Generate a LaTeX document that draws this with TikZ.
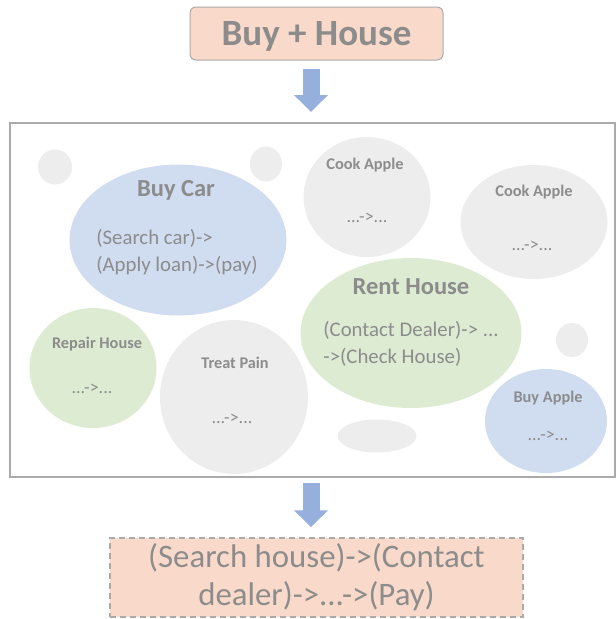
\documentclass[tikz,border=0pt]{standalone}
\usepackage{fontspec}
\setmainfont{Carlito}
\usetikzlibrary{shapes.geometric}
\usetikzlibrary{arrows,arrows.meta}
\usetikzlibrary{calc}
\definecolor{schrift}{RGB}{140,140,140}
\definecolor{rahmen}{RGB}{170,170,170}
\definecolor{pfirsich}{RGB}{249,218,202}
\definecolor{hellblau}{RGB}{208,220,240}
\definecolor{hellgruen}{RGB}{221,235,211}
\definecolor{hellgrau}{RGB}{237,237,237}
\definecolor{pfeilblau}{RGB}{150,176,222}

\begin{document}
\begin{tikzpicture}[x=1pt, y=-1pt, schrift,
    blase/.style={ellipse, draw=none, inner sep=0pt},
    titel/.style={font=\bfseries\fontsize{16.3}{18}\selectfont},
    titelgross/.style={font=\bfseries\fontsize{24.5}{28}\selectfont},
    inhalt/.style={font=\fontsize{18}{20}\selectfont},
    inhaltgross/.style={font=\fontsize{20.8}{27}\selectfont, align=left},
    blockpfeil/.style={pfeilblau, line width=17pt, -{Triangle[width=33pt, length=17pt]}}]

    \useasboundingbox (0,0) rectangle (616,619);

    % oben und unten
    \node[fill=pfirsich, draw=rahmen, line width=1pt, rounded corners=6pt, minimum width=253pt, minimum height=53pt,
          text height=30pt, font=\bfseries\fontsize{37}{40}\selectfont] (ziel) at (316.5,33.5) {Buy + House};
    \draw[draw=rahmen, line width=2pt] (10,123) rectangle (615,477);
    \coordinate (rahmen-oben) at (311,123);
    \coordinate (rahmen-unten) at (311,477);
    \node[fill=pfirsich, draw=rahmen, line width=1.5pt, dash pattern=on 6pt off 4pt, minimum width=413pt, minimum height=79pt,
          align=center, font=\fontsize{32.8}{38}\selectfont] (plan) at (316.5,577.5) {(Search house)->(Contact\\dealer)->...->(Pay)};

    \draw[blockpfeil, shorten <=8pt, shorten >=11pt] (ziel.south -| rahmen-oben) -- (rahmen-oben);
    \draw[blockpfeil, shorten <=6pt, shorten >=10pt] (rahmen-unten) -- (plan.north -| rahmen-unten);

    % kleine fuellkreise
    \node[blase, fill=hellgrau, minimum width=34pt, minimum height=35pt] (punkt1) at (55,167) {};
    \node[blase, fill=hellgrau, minimum width=32pt, minimum height=35pt] (punkt2) at (266,164) {};
    \node[blase, fill=hellgrau, minimum width=32pt, minimum height=34pt] (punkt3) at (572,340) {};
    \node[blase, fill=hellgrau, minimum width=79pt, minimum height=33pt] (punkt4) at (377,436) {};

    % Buy Car
    \node[blase, fill=hellblau, minimum width=217pt, minimum height=151pt] (buycar) at (178,240) {};
    \node[titelgross] (buycar-t) at (176,190) {Buy Car};
    \node[inhaltgross] (buycar-i) at (177,252) {(Search car)->\\(Apply loan)->(pay)};

    % Cook Apple
    \node[blase, fill=hellgrau, minimum width=127pt, minimum height=120pt] (cook1) at (367,197) {};
    \node[titel] (cook1-t) at (365,165) {Cook Apple};
    \node[inhalt] (cook1-i) at (367,218) {...->...};

    \node[blase, fill=hellgrau, minimum width=147pt, minimum height=114pt] (cook2) at (534,222) {};
    \node[titel] (cook2-t) at (534,192) {Cook Apple};
    \node[inhalt] (cook2-i) at (532,246) {...->...};

    % Rent House
    \node[blase, fill=hellgruen, minimum width=221pt, minimum height=150pt] (rent) at (411,333) {};
    \node[titelgross] (rent-t) at (411,287) {Rent House};
    \node[inhaltgross] (rent-i) at (411,344) {(Contact Dealer)-> ...\\->(Check House)};

    % Repair House
    \node[blase, fill=hellgruen, minimum width=127pt, minimum height=120pt] (repair) at (93,368) {};
    \node[titel] (repair-t) at (97,344) {Repair House};
    \node[inhalt] (repair-i) at (92,389) {...->...};

    % Treat Pain
    \node[blase, fill=hellgrau, minimum width=148pt, minimum height=154pt] (pain) at (234,397) {};
    \node[titel] (pain-t) at (235,363) {Treat Pain};
    \node[inhalt] (pain-i) at (232,419) {...->...};

    % Buy Apple
    \node[blase, fill=hellblau, minimum width=122pt, minimum height=104pt] (buyapple) at (546,421) {};
    \node[titel] (buyapple-t) at (548,398) {Buy Apple};
    \node[inhalt] (buyapple-i) at (548,436) {...->...};

\end{tikzpicture}
\end{document}
